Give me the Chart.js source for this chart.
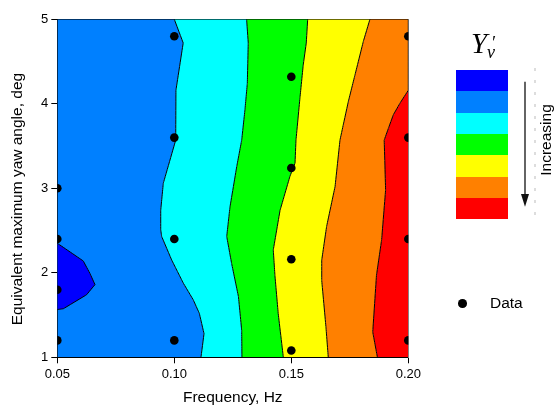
<!DOCTYPE html>
<html>
<head>
<meta charset="utf-8">
<script src="https://cdn.jsdelivr.net/npm/chart.js@4.4.1/dist/chart.umd.min.js"></script>
<style>
  html, body { margin: 0; padding: 0; background: #fff; }
  #wrap { position: relative; width: 554px; height: 407px; font-family: 'Liberation Sans', Arial, sans-serif; color: #000; }
  #chart { position: absolute; left: 0; top: 0; }
  .abs { position: absolute; line-height: 1; white-space: nowrap; }
  .key { position: absolute; left: 456px; width: 52px; }
  .serif { font-family: 'Liberation Serif', 'DejaVu Serif', serif; font-style: italic; }
</style>
</head>
<body>
<div id="wrap">
  <canvas id="chart" width="554" height="407"></canvas>

  <!-- colour key -->
  <div class="abs serif" style="left:471px; top:29px; font-size:29px;">Y</div>
  <div class="abs serif" style="left:491px; top:34px; font-size:18px;">&#8242;</div>
  <div class="abs serif" style="left:487px; top:43px; font-size:18px;">v</div>
  <div id="keys"></div>
  <svg class="abs" style="left:532px; top:66px;" width="6" height="160">
    <line x1="3" y1="2" x2="3" y2="158" stroke="#bbb" stroke-width="1" stroke-dasharray="3 9"/>
  </svg>
  <svg class="abs" style="left:518px; top:78px;" width="14" height="132">
    <line x1="7" y1="3.7" x2="7" y2="118" stroke="#111" stroke-width="1.3"/>
    <polygon points="3,116 11,116 7,128.7" fill="#111"/>
  </svg>
  <div class="abs" style="left:496px; top:130px; width:100px; height:20px; line-height:20px; text-align:center; font-size:15.5px; transform:rotate(-90deg);">Increasing</div>

  <!-- data key -->
  <div class="abs" style="left:458.4px; top:299px; width:8.6px; height:8.6px; border-radius:50%; background:#000;"></div>
  <div class="abs" style="left:490px; top:293.3px; height:20px; line-height:20px; font-size:15.5px;">Data</div>
</div>

<script>
// measured points
const DATA_X = [0.05, 0.05, 0.05, 0.05, 0.10, 0.10, 0.10, 0.10, 0.15, 0.15, 0.15, 0.15, 0.20, 0.20, 0.20, 0.20];
const DATA_Y = [1.2, 1.8, 2.4, 3.0, 1.2, 2.4, 3.6, 4.8, 1.08, 2.16, 3.24, 4.32, 1.2, 2.4, 3.6, 4.8];

// contour boundaries, x = f(y), listed from top (y=5) to bottom (y=1)
const POCKET_Y = [2.35, 2.14, 1.99, 1.86, 1.74, 1.575, 1.565];
const POCKET_X = [0.05, 0.0611, 0.0640, 0.0661, 0.0625, 0.0526, 0.05];

const B1_Y = [5, 4.72, 4.16, 3.57, 3.06, 2.74, 2.51, 2.43, 2.15, 1.88, 1.68, 1.52, 1.28, 1];
const B1_X = [0.1000, 0.1038, 0.1007, 0.1006, 0.0953, 0.0942, 0.0942, 0.0946, 0.0989, 0.1038, 0.1081, 0.1107, 0.1127, 0.1114];

const B2_Y = [5, 4.72, 4.24, 3.93, 3.57, 3.26, 2.78, 2.43, 2.11, 1.72, 1.32, 1];
const B2_X = [0.1309, 0.1316, 0.1312, 0.1302, 0.1288, 0.1267, 0.1238, 0.1224, 0.1245, 0.1274, 0.1288, 0.1289];

const B3_Y = [5, 4.72, 4.46, 4.07, 3.57, 3.30, 3.14, 2.74, 2.27, 1.97, 1.52, 1];
const B3_X = [0.1570, 0.1564, 0.1551, 0.1537, 0.1520, 0.1516, 0.1494, 0.1452, 0.1423, 0.1430, 0.1444, 0.1466];

const B4_Y = [5, 4.74, 4.34, 4.03, 3.75, 3.57, 3.02, 2.55, 2.15, 1.91, 1.36, 1];
const B4_X = [0.1836, 0.1808, 0.1772, 0.1744, 0.1722, 0.1708, 0.1687, 0.1651, 0.1630, 0.1630, 0.1648, 0.1658];

const B5_Y = [5, 4.16, 4.01, 3.87, 3.71, 3.57, 2.98, 2.39, 1.97, 1.30, 1];
const B5_X = [0.2, 0.2, 0.1965, 0.1936, 0.1915, 0.1897, 0.1903, 0.1886, 0.1864, 0.1848, 0.1868];

const LEVEL_COLORS = ['#0000ff', '#0080ff', '#00ffff', '#00ff00', '#ffff00', '#ff8000', '#ff0000'];

const X_TICKS = [0.05, 0.10, 0.15, 0.20];
const X_LABELS = ['0.05', '0.10', '0.15', '0.20'];
const Y_TICKS = [1, 2, 3, 4, 5];
const Y_LABELS = ['1', '2', '3', '4', '5'];

function toPoints(xs, ys) {
    return xs.map((x, i) => ({ x: x, y: ys[i] }));
}

function band(xs, ys, color, fill) {
    return {
        data: toPoints(xs, ys),
        backgroundColor: color,
        borderColor: '#000',
        borderWidth: 1,
        tension: 0.0001,
        pointRadius: 0,
        fill: fill,
        clip: 0
    };
}

// colour key boxes
const keys = document.getElementById('keys');
LEVEL_COLORS.forEach((c, i) => {
    const d = document.createElement('div');
    d.className = 'key';
    d.style.top = (70 + i * 21.3) + 'px';
    d.style.height = '21.4px';
    d.style.background = c;
    keys.appendChild(d);
});

Chart.defaults.font.family = "'Liberation Sans', Arial, sans-serif";
Chart.defaults.color = '#000';

const ctx = document.getElementById('chart').getContext('2d');
new Chart(ctx, {
    type: 'line',
    data: {
        datasets: [
            {
                data: toPoints(DATA_X, DATA_Y),
                showLine: false,
                pointRadius: 4.3,
                pointBorderWidth: 0,
                pointBackgroundColor: '#000',
                clip: 0
            },
            band(POCKET_X, POCKET_Y, LEVEL_COLORS[0], { value: 0.05 }),
            band(B1_X, B1_Y, LEVEL_COLORS[1], { value: 0.05 }),
            band(B2_X, B2_Y, LEVEL_COLORS[2], '-1'),
            band(B3_X, B3_Y, LEVEL_COLORS[3], '-1'),
            band(B4_X, B4_Y, LEVEL_COLORS[4], '-1'),
            band(B5_X, B5_Y, LEVEL_COLORS[5], '-1'),
            Object.assign(band(B5_X, B5_Y, LEVEL_COLORS[6], { value: 0.2 }), { borderWidth: 0 })
        ]
    },
    options: {
        indexAxis: 'y',
        responsive: false,
        animation: false,
        events: [],
        layout: { padding: { left: 4, top: 19.3, right: 145.7, bottom: 0 } },
        plugins: {
            legend: { display: false },
            tooltip: { enabled: false }
        },
        scales: {
            x: {
                type: 'linear',
                position: 'bottom',
                min: 0.05,
                max: 0.20,
                afterBuildTicks: s => { s.ticks = X_TICKS.map(v => ({ value: v })); },
                afterFit: s => { s.height = 49.7; },
                ticks: { font: { size: 13 }, padding: 3, callback: (v, i) => X_LABELS[i] },
                grid: { drawOnChartArea: false, tickLength: 6, color: '#000' },
                border: { color: '#000', width: 1 },
                title: { display: true, text: 'Frequency, Hz', font: { size: 15.5 }, padding: { top: 0, bottom: 0 } }
            },
            y: {
                type: 'linear',
                position: 'left',
                min: 1,
                max: 5,
                afterBuildTicks: s => { s.ticks = Y_TICKS.map(v => ({ value: v })); },
                afterFit: s => { s.width = 53.3; },
                ticks: { font: { size: 13 }, padding: 3, callback: (v, i) => Y_LABELS[i] },
                grid: { drawOnChartArea: false, tickLength: 6, color: '#000' },
                border: { color: '#000', width: 1 },
                title: { display: true, text: 'Equivalent maximum yaw angle, deg     ', font: { size: 15.5 }, padding: { top: 4, bottom: 0 } }
            },
            x2: {
                type: 'linear',
                position: 'top',
                min: 0.05,
                max: 0.20,
                afterFit: s => { s.height = 0; },
                ticks: { display: false },
                grid: { display: false },
                border: { display: true, color: '#000', width: 1 }
            },
            y2: {
                type: 'linear',
                position: 'right',
                min: 1,
                max: 5,
                afterFit: s => { s.width = 0; },
                ticks: { display: false },
                grid: { display: false },
                border: { display: true, color: '#888', width: 1 }
            }
        }
    }
});
</script>
</body>
</html>
